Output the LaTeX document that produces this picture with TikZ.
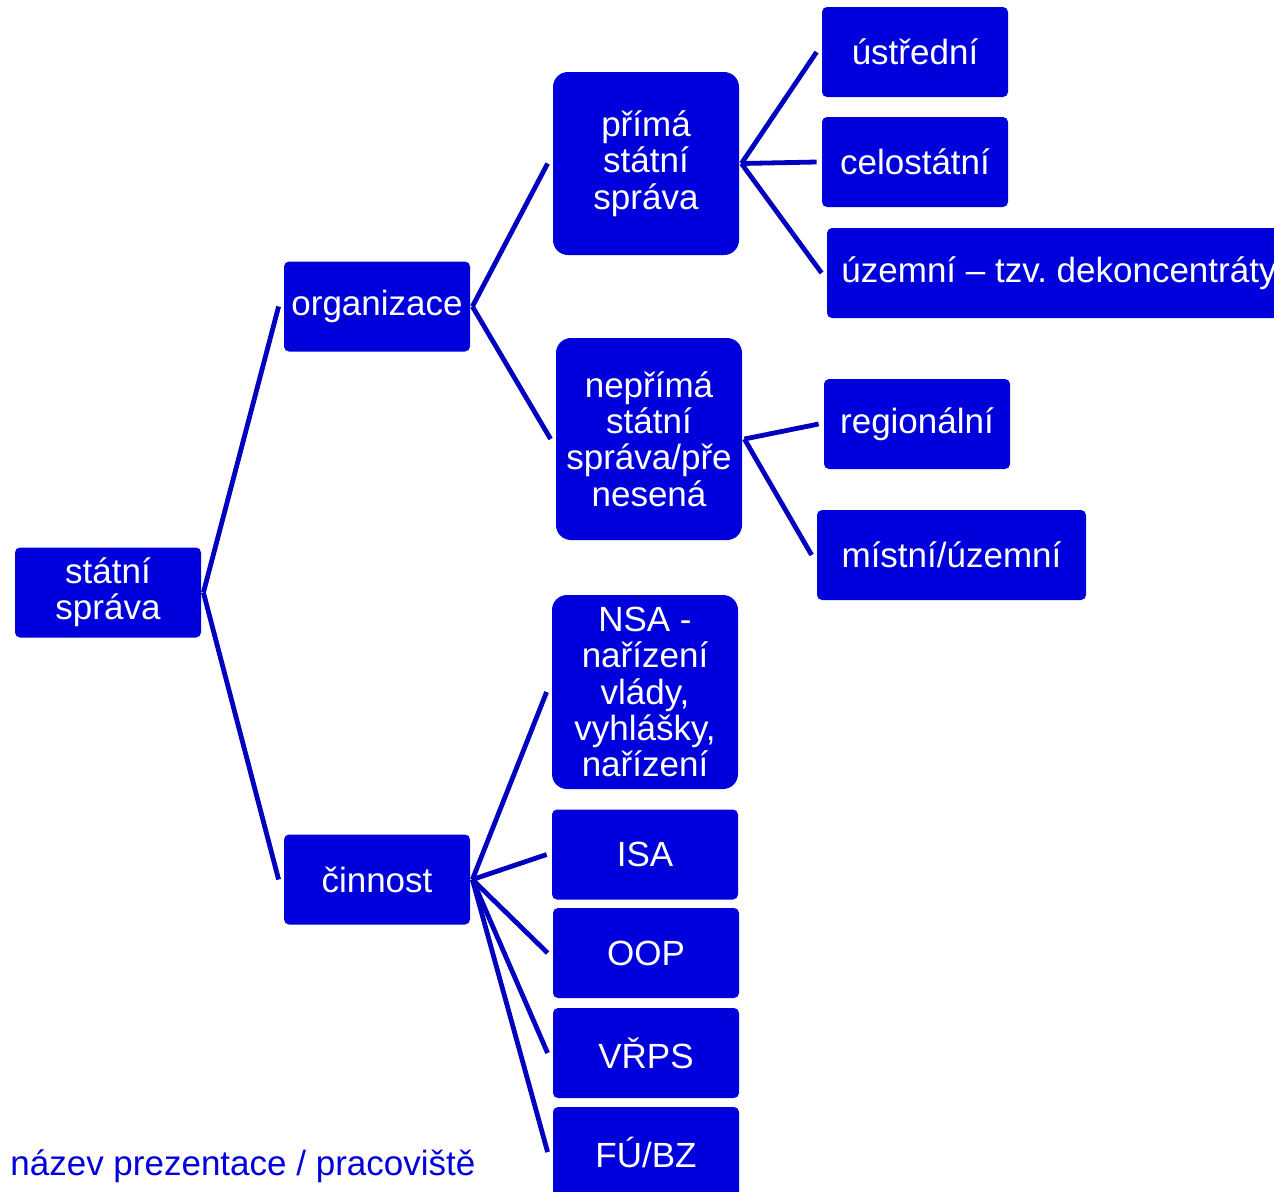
\documentclass[tikz,border=0pt]{standalone}
\usepackage{fontspec}
\setmainfont{Liberation Sans}
\definecolor{boxblue}{RGB}{0,0,220}
\definecolor{lineblue}{RGB}{0,0,190}
\begin{document}
\begin{tikzpicture}[x=0.5pt, y=-0.5pt,
        box/.style ={rectangle, fill=boxblue, text=white, rounded corners=2.5pt, align=center,
            minimum width=93pt, minimum height=45pt, inner sep=3pt,
            font=\fontsize{17.5}{18.2}\selectfont},
        tall/.style ={box, rounded corners=7.5pt},
        conn/.style ={draw=lineblue, line width=2.4pt}]
        \useasboundingbox (0,0) rectangle (1274,1191);
        \clip (0,0) rectangle (1274,1191);
        \node[box] (statni) at (108,592.5) {státní\\správa};
        \node[box] (org) at (377,306.5) {organizace};
        \node[box] (cin) at (377,879.5) {činnost};
        \node[tall, minimum height=91.5pt] (prima) at (646,163.5) {přímá\\státní\\správa};
        \node[tall, minimum height=101pt] (neprima) at (649,439) {nepřímá\\státní\\správa/pře\\nesená};
        \node[tall, minimum height=97pt] (nsa) at (645,692) {NSA -\\nařízení\\vlády,\\vyhlášky,\\nařízení};
        \node[box] (isa) at (645,854.5) {ISA};
        \node[box] (oop) at (646,953) {OOP};
        \node[box] (vrps) at (646,1053) {VŘPS};
        \node[box] (fu) at (646,1152) {FÚ/BZ};
        \node[box] (ustr) at (915,52) {ústřední};
        \node[box] (celo) at (915,162) {celostátní};
        \node[box, minimum width=232pt] (uzem) at (1059,273) {územní – tzv.\ dekoncentráty};
        \node[box] (reg) at (917,424) {regionální};
        \node[box, minimum width=134.5pt] (mist) at (951.5,555) {místní/územní};
        \node[anchor=base west, inner sep=0pt, text=boxblue, font=\fontsize{17.5}{18.2}\selectfont] (pata) at (10,1175) {název prezentace / pracoviště};
        \draw[conn] ([xshift=1pt]statni.east) -- ([xshift=-2.5pt]org.west);
        \draw[conn] ([xshift=1pt]statni.east) -- ([xshift=-2.5pt]cin.west);
        \draw[conn] ([xshift=1pt]org.east) -- ([xshift=-2.5pt]prima.west);
        \draw[conn] ([xshift=1pt]org.east) -- ([xshift=-2.5pt]neprima.west);
        \draw[conn] ([xshift=1pt]prima.east) -- ([xshift=-2.5pt]ustr.west);
        \draw[conn] ([xshift=1pt]prima.east) -- ([xshift=-2.5pt]celo.west);
        \draw[conn] ([xshift=1pt]prima.east) -- ([xshift=-2.5pt]uzem.west);
        \draw[conn] ([xshift=1pt]neprima.east) -- ([xshift=-2.5pt]reg.west);
        \draw[conn] ([xshift=1pt]neprima.east) -- ([xshift=-2.5pt]mist.west);
        \draw[conn] ([xshift=1pt]cin.east) -- ([xshift=-2.5pt]nsa.west);
        \draw[conn] ([xshift=1pt]cin.east) -- ([xshift=-2.5pt]isa.west);
        \draw[conn] ([xshift=1pt]cin.east) -- ([xshift=-2.5pt]oop.west);
        \draw[conn] ([xshift=1pt]cin.east) -- ([xshift=-2.5pt]vrps.west);
        \draw[conn] ([xshift=1pt]cin.east) -- ([xshift=-2.5pt]fu.west);
    \end{tikzpicture}
\end{document}
